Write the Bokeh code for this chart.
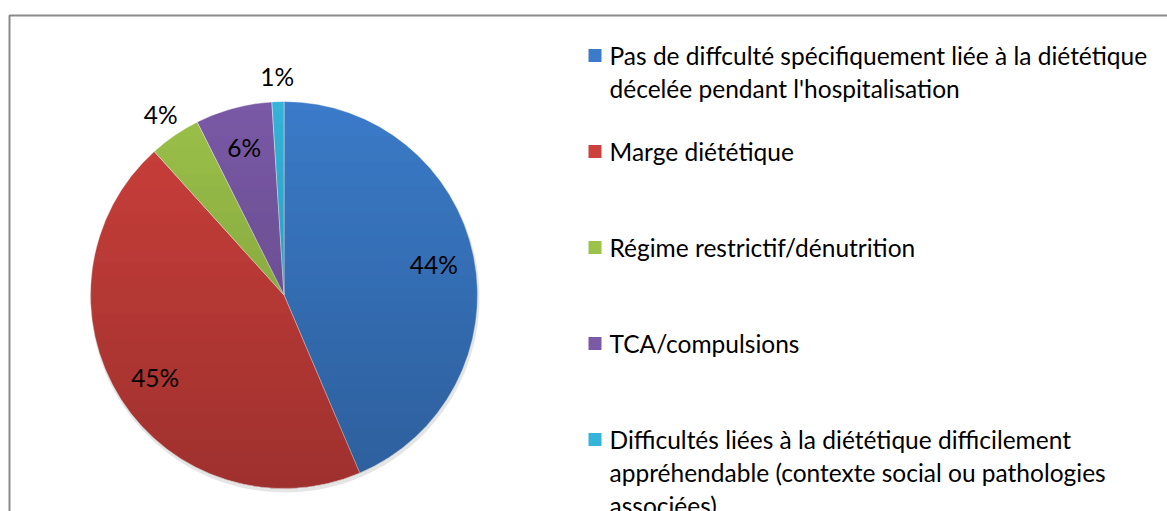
import math
import numpy as np
from bokeh.plotting import figure
from bokeh.models import Range1d, ColumnDataSource
from bokeh.core.properties import value
from bokeh.embed import file_html
from bokeh.resources import INLINE

# ---- data ----
categories = [
    "Pas de diffculté spécifiquement liée à la diététique\ndécelée pendant l'hospitalisation",
    "Marge diététique",
    "Régime restrictif/dénutrition",
    "TCA/compulsions",
    "Difficultés liées à la  diététique difficilement\nappréhendable (contexte social ou pathologies\nassociées)",
]
values = [43.6, 44.7, 4.3, 6.4, 1.0]
colors = ["#3b7bc9", "#cd403c", "#9cc24a", "#7a5aa6", "#34b4d8"]

# ---- layout ----
W, H = 1167, 511
FONT = "Lato"
FS = "24.5px"


def X(px):
    return px


def Y(py):
    return H - py


p = figure(width=W, height=H, x_range=Range1d(0, W), y_range=Range1d(0, H),
           output_backend="svg", toolbar_location=None, min_border=0,
           x_axis_type=None, y_axis_type=None)
p.grid.visible = False
p.outline_line_color = None
p.background_fill_color = "white"
p.border_fill_color = "white"

# chart frame
p.quad(left=X(9), right=W + 50, top=Y(15), bottom=-50,
       fill_color=None, line_color="#8a8a8a", line_width=2)

# pie
cx, cy, R = X(283.5), Y(294.5), 193.5
total = sum(values)
fr = [v / total for v in values]
cum = np.concatenate([[0], np.cumsum(fr)])
starts = [math.pi / 2 - 2 * math.pi * cum[i] for i in range(len(values))]
ends = [math.pi / 2 - 2 * math.pi * cum[i + 1] for i in range(len(values))]

# soft shadow
p.circle(x=cx + 1, y=cy - 3, radius=R + 1, fill_color="#000000",
         fill_alpha=0.10, line_color=None)

src = ColumnDataSource(dict(start=starts, end=ends, color=colors))
p.wedge(x=cx, y=cy, radius=R, start_angle="start", end_angle="end",
        direction="clock", fill_color="color", line_color="#ffffff",
        line_alpha=0.5, line_width=0.8, source=src)

# vertical shading (gradient imitation)
ys = np.arange(cy - R, cy + R) + 0.5
ws = 2 * np.sqrt(np.clip(R ** 2 - (ys - cy) ** 2, 0, None))
alphas = 0.24 * ((cy + R) - ys) / (2 * R)
p.rect(x=cx, y=ys, width=ws, height=1.0, fill_color="#000000",
       fill_alpha=alphas, line_color=None)

# percentage labels
lx, ly, lt = [], [], []
for i, v in enumerate(values):
    mid = 2 * math.pi * (cum[i] + cum[i + 1]) / 2
    r = 0.79 * R if fr[i] >= 0.05 else R + 25
    lx.append(cx + r * math.sin(mid))
    ly.append(cy + r * math.cos(mid))
    lt.append(f"{round(v / total * 100)}%")
p.text(x=lx, y=ly, text=lt, text_font=value(FONT), text_font_size=FS,
       text_color="#000000", text_align="center", text_baseline="middle")

# legend
leg_top = Y(55)
step = 96
line_h = 33
for i, (cat, col) in enumerate(zip(categories, colors)):
    yc = leg_top - i * step
    p.rect(x=X(594.5), y=yc, width=13, height=13, fill_color=col,
           line_color=None)
    lines = cat.split("\n")
    p.text(x=[X(609)] * len(lines), y=[yc - k * line_h for k in range(len(lines))],
           text=lines, text_font=value(FONT), text_font_size=FS,
           text_color="#000000", text_align="left", text_baseline="middle")

open("out.html", "w").write(file_html(p, INLINE))
